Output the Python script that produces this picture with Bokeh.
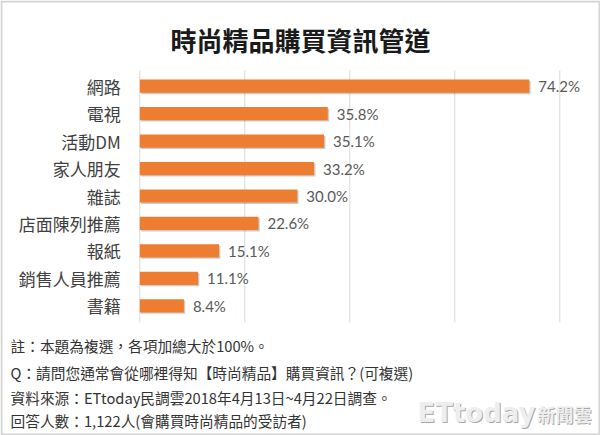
from bokeh.plotting import figure
from bokeh.models import ColumnDataSource, Range1d
from bokeh.core.properties import value
from bokeh.transform import dodge
from bokeh.embed import file_html
from bokeh.resources import INLINE

title_text = "時尚精品購買資訊管道"
categories = ["網路", "電視", "活動DM", "家人朋友", "雜誌", "店面陳列推薦", "報紙", "銷售人員推薦", "書籍"]
values = [74.2, 35.8, 35.1, 33.2, 30.0, 22.6, 15.1, 11.1, 8.4]
value_labels = ["74.2%", "35.8%", "35.1%", "33.2%", "30.0%", "22.6%", "15.1%", "11.1%", "8.4%"]
notes = [
    "註：本題為複選，各項加總大於100%。",
    "Q：請問您通常會從哪裡得知【時尚精品】購買資訊？(可複選)",
    "資料來源：ETtoday民調雲2018年4月13日~4月22日調查。",
    "回答人數：1,122人(會購買時尚精品的受訪者)",
]
x_ticks = [0, 20, 40, 60, 80]

CJK = "Noto Sans CJK TC"
W, H = 600, 435

# layout geometry (pixels)
X0, PX_PER_PCT = 139.3, 5.25      # x position of 0% and scale
Y_FIRST, PITCH = 85.7, 27.45      # centre of first row and row pitch

rows = list(range(len(categories)))
src = ColumnDataSource(dict(row=rows, cat=categories, v=values, lab=value_labels))

p = figure(width=W, height=H, output_backend="svg", toolbar_location=None,
           x_range=Range1d(-X0 / PX_PER_PCT, (W - X0) / PX_PER_PCT),
           y_range=Range1d((H - Y_FIRST) / PITCH, -Y_FIRST / PITCH),
           x_axis_location=None, y_axis_location=None,
           min_border=0, min_border_left=0, min_border_right=0,
           min_border_top=0, min_border_bottom=0)
p.outline_line_color = None
p.grid.visible = False
p.background_fill_color = "white"
p.border_fill_color = "white"
p.extra_x_ranges = {"px": Range1d(0, W)}
p.extra_y_ranges = {"px": Range1d(H, 0)}

# outer frame border
p.quad(left=[1], right=[W - 1], top=[1], bottom=[H - 1], x_range_name="px", y_range_name="px",
       fill_color=None, line_color="#d4d4d4", line_width=2)

# vertical gridlines
n = len(categories)
p.segment(x0=x_ticks, x1=x_ticks, y0=[-0.57] * len(x_ticks), y1=[n - 1 + 0.6] * len(x_ticks),
          line_color="#d9d9d9", line_width=1)

# bar shadow + bars
p.hbar(y=dodge("row", 0.05), right=dodge("v", 0.25), left=0.25, height=0.48,
       source=src, fill_color="black", fill_alpha=0.2, line_color=None)
p.hbar(y="row", right="v", left=0, height=0.48, source=src,
       fill_color="#ED7D31", line_color=None)

# category labels
p.text(x=0, y="row", text="cat", source=src, x_offset=-19,
       text_font=value(CJK), text_font_size="17px", text_color="#404040",
       text_align="right", text_baseline="middle")

# value labels
p.text(x="v", y="row", text="lab", source=src, x_offset=9,
       text_font=value("Lato"), text_font_size="15px", text_color="#595959",
       text_align="left", text_baseline="middle")


def ptext(x, y, text, **kw):
    p.text(x=[x], y=[y], text=[text], x_range_name="px", y_range_name="px", **kw)


ptext(300, 39, title_text, text_font=value(CJK), text_font_size="26px",
      text_font_style="bold", text_color="#1a1a1a", text_align="center",
      text_baseline="middle")

for t, ry in zip(notes, [345, 371.5, 396.5, 420]):
    ptext(10, ry, t, text_font=value(CJK), text_font_size="14.7px", text_color="#333333",
          text_align="left", text_baseline="middle")

# logo
for dx, dy, col in [(1, 1, "#a8a8a8"), (0, 0, "#eeeeee")]:
    ptext(535 + dx, 412 + dy, "ETtoday", text_font=value("DejaVu Sans"),
          text_font_size="26px", text_font_style="bold", text_color=col,
          text_align="right", text_baseline="middle")
    ptext(591 + dx, 413 + dy, "新聞雲", text_font=value(CJK), text_font_size="18px",
          text_font_style="bold", text_color=col, text_align="right",
          text_baseline="middle")

open("out.html", "w").write(file_html(p, INLINE))
